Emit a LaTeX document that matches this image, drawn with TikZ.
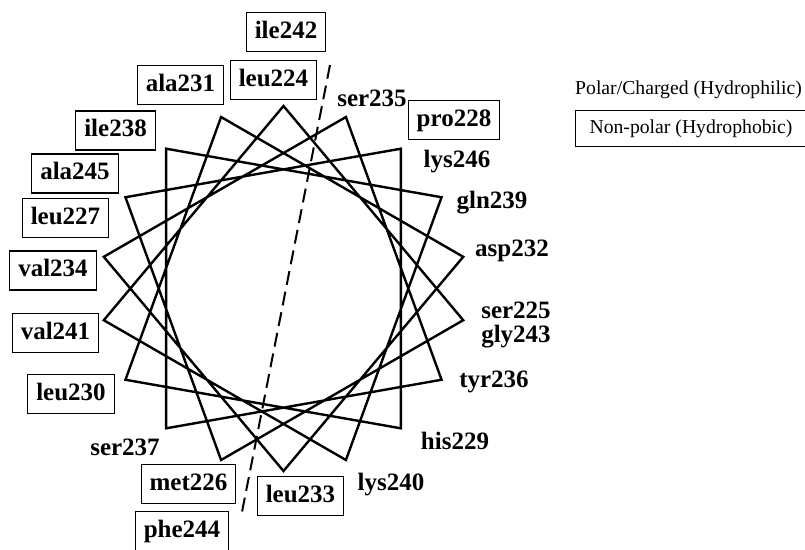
\documentclass[tikz,border=0pt]{standalone}
\usepackage{fontspec}
\setmainfont{Liberation Serif}
\usetikzlibrary{calc}
\begin{document}
\begin{tikzpicture}[x=1pt,y=-1pt,
  res/.style={font=\fontsize{25}{25}\selectfont\bfseries, inner sep=0pt},
  resbox/.style={res, draw, line width=1.1pt, inner xsep=8.5pt, inner ysep=8pt, text height=17.5pt, text depth=5.5pt},
  legend/.style={font=\fontsize{19.7}{20}\selectfont, inner sep=0pt},
  legbox/.style={legend, draw, line width=1.1pt, inner xsep=14pt, text height=15pt, text depth=4.5pt, inner ysep=8pt},
  helix/.style={line width=2.4pt, line join=miter},
  axis/.style={line width=2pt, dash pattern=on 14pt off 7pt}]
\useasboundingbox (0,0) rectangle (805,549);
% wheel vertices: residue n at angle 90-(n-224)*100
\foreach \n in {224,...,241}{
  \pgfmathsetmacro{\ang}{90-(\n-224)*100}
  \coordinate (v\n) at ($(283.5,288.5)+({182.5*cos(\ang)},{-182.5*sin(\ang)})$);
}
\draw[helix] (v224)--(v225)--(v226)--(v227)--(v228)--(v229)--(v230)--(v231)--(v232)--(v233)--(v234)--(v235)--(v236)--(v237)--(v238)--(v239)--(v240)--(v241)--cycle;
% hydrophobic axis
\coordinate (dtop) at (330,65);
\coordinate (dbot) at (241,517);
\draw[axis] (dtop)--(dbot);
% labels
\node[resbox] (ile242) at (286,32) {ile242};
\node[resbox] (leu224) at (273.5,80) {leu224};
\node[resbox] (ala231) at (180.5,85) {ala231};
\node[resbox] (ile238) at (115.5,130.5) {ile238};
\node[resbox] (ala245) at (75,173.5) {ala245};
\node[resbox] (leu227) at (65.5,218) {leu227};
\node[resbox] (val234) at (53,270.5) {val234};
\node[resbox] (val241) at (55.5,333) {val241};
\node[resbox] (leu230) at (71,394) {leu230};
\node[res] (ser237) at (125,447) {ser237};
\node[resbox] (met226) at (188.5,484) {met226};
\node[resbox] (phe244) at (182,531) {phe244};
\node[resbox] (leu233) at (300.5,496) {leu233};
\node[res] (lys240) at (391,485) {lys240};
\node[res] (his229) at (455,441) {his229};
\node[res] (tyr236) at (494,382) {tyr236};
\node[res] (gly243) at (516,337) {gly243};
\node[res] (ser225) at (516,310) {ser225};
\node[res] (asp232) at (512,251) {asp232};
\node[res] (gln239) at (492,203) {gln239};
\node[res] (lys246) at (457,162) {lys246};
\node[resbox] (pro228) at (454,120) {pro228};
\node[res] (ser235) at (372,98) {ser235};
% legend
\node[legend, anchor=west] (polar) at (575,90) {Polar/Charged (Hydrophilic)};
\node[legbox, anchor=west] (nonpolar) at (575,128.5) {Non-polar (Hydrophobic)};
\end{tikzpicture}
\end{document}
